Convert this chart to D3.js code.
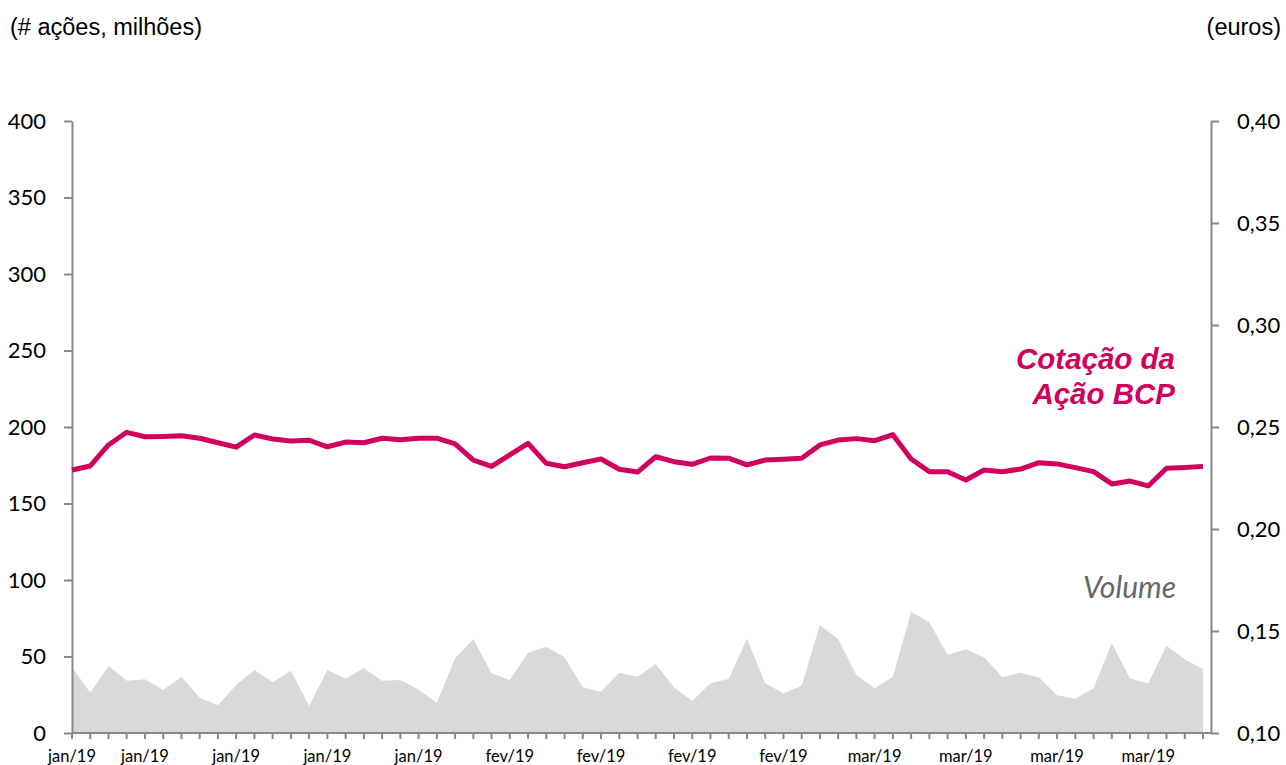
<!DOCTYPE html>
<html>
<head>
<meta charset="utf-8">
<script src="https://cdn.jsdelivr.net/npm/d3@7"></script>
<style>
  body { margin: 0; background: #fff; }
  svg { display: block; }
</style>
</head>
<body>
<svg id="chart" width="1286" height="765"></svg>
<script>
// ---- Data (trading days, Jan–Mar 2019) ----
const months = [].concat(
  Array(22).fill("jan/19"),
  Array(20).fill("fev/19"),
  Array(21).fill("mar/19")
);
const labelIdx = [0, 4, 9, 14, 19, 24, 29, 34, 39, 44, 49, 54, 59];

const volume = [
  42.9, 26.3, 44.0, 34.2, 35.1, 28.1, 36.8, 23.1, 18.1, 31.4,
  41.2, 33.1, 40.7, 17.6, 41.2, 35.7, 42.3, 34.2, 34.6, 28.5,
  19.8, 48.8, 61.2, 39.0, 34.6, 52.5, 56.4, 49.5, 29.9, 27.0,
  39.4, 36.8, 45.1, 29.9, 20.9, 32.5, 35.3, 61.6, 32.5, 25.9,
  30.9, 70.6, 61.4, 37.9, 29.2, 36.8, 79.3, 72.4, 51.0, 54.7,
  49.5, 36.4, 39.4, 36.4, 24.6, 22.4, 29.2, 58.6, 35.7, 32.5,
  57.1, 48.2, 41.6
];

const price = [
  0.2289, 0.2309, 0.2412, 0.2474, 0.2452, 0.2454, 0.2457, 0.2445, 0.2423, 0.2401,
  0.2461, 0.2441, 0.2431, 0.2435, 0.2403, 0.2426, 0.2423, 0.2445, 0.2438, 0.2445,
  0.2445, 0.2417, 0.2338, 0.2307, 0.2363, 0.2420, 0.2322, 0.2305, 0.2325, 0.2343,
  0.2293, 0.2279, 0.2354, 0.2330, 0.2317, 0.2348, 0.2347, 0.2314, 0.2338, 0.2342,
  0.2347, 0.2412, 0.2436, 0.2443, 0.2433, 0.2462, 0.2343, 0.2281, 0.2281, 0.2240,
  0.2289, 0.2281, 0.2294, 0.2325, 0.2319, 0.2301, 0.2281, 0.2221, 0.2235, 0.2211,
  0.2298, 0.2301, 0.2307
];

const leftTicks = [0, 50, 100, 150, 200, 250, 300, 350, 400];
const rightTicks = [0.10, 0.15, 0.20, 0.25, 0.30, 0.35, 0.40];

// ---- Layout ----
const svg = d3.select("#chart");
const plotL = 72, plotR = 1211, plotT = 121, plotB = 733;
const lastX = 1203;
const axisColor = "#898989";
const tickFont = "Lato, 'Open Sans', sans-serif";

const x = d3.scaleLinear().domain([0, volume.length - 1]).range([plotL, lastX]);
const yL = d3.scaleLinear().domain([0, 400]).range([plotB, plotT]);
const yR = d3.scaleLinear().domain([0.10, 0.40]).range([plotB, plotT]);

// Volume area
svg.append("path")
  .datum(volume)
  .attr("fill", "#d9d9d9")
  .attr("d", d3.area()
    .x((d, i) => x(i))
    .y0(yL(0))
    .y1(d => yL(d)));

// Left axis
const gL = svg.append("g")
  .attr("transform", `translate(${plotL},0)`)
  .call(d3.axisLeft(yL).tickValues(leftTicks).tickSize(8).tickSizeOuter(0).tickPadding(18)
    .tickFormat(d3.format("d")));
// Right axis
const fmtR = d => d.toFixed(2).replace(".", ",");
const gR = svg.append("g")
  .attr("transform", `translate(${plotR},0)`)
  .call(d3.axisRight(yR).tickValues(rightTicks).tickSize(8).tickSizeOuter(0).tickPadding(18)
    .tickFormat(fmtR));

[gL, gR].forEach(g => {
  g.select(".domain").attr("stroke", axisColor).attr("stroke-width", 2);
  g.selectAll(".tick line").attr("stroke", axisColor).attr("stroke-width", 2);
  g.selectAll(".tick text")
    .attr("fill", "#000")
    .style("font-family", tickFont)
    .style("font-size", "22px");
});

// X axis
const gX = svg.append("g");
gX.append("line")
  .attr("x1", plotL).attr("x2", plotR)
  .attr("y1", plotB).attr("y2", plotB)
  .attr("stroke", axisColor).attr("stroke-width", 2);
gX.selectAll("line.xt")
  .data(d3.range(volume.length))
  .join("line")
  .attr("class", "xt")
  .attr("x1", i => x(i)).attr("x2", i => x(i))
  .attr("y1", plotB).attr("y2", plotB + 6)
  .attr("stroke", axisColor).attr("stroke-width", 2);
gX.selectAll("text.xl")
  .data(labelIdx)
  .join("text")
  .attr("class", "xl")
  .attr("x", i => x(i))
  .attr("y", 762)
  .attr("text-anchor", "middle")
  .style("font-family", tickFont)
  .style("font-size", "16.5px")
  .attr("fill", "#000")
  .text(i => months[i]);

// Price line
svg.append("path")
  .datum(price)
  .attr("fill", "none")
  .attr("stroke", "#d1005c")
  .attr("stroke-width", 5)
  .attr("stroke-linejoin", "round")
  .attr("d", d3.line()
    .x((d, i) => x(i))
    .y(d => yR(d)));

// Unit labels
svg.append("text")
  .attr("x", 10).attr("y", 35)
  .style("font-family", "'Liberation Sans', Arial, sans-serif")
  .style("font-size", "23.5px")
  .attr("fill", "#000")
  .text("(# ações, milhões)");
svg.append("text")
  .attr("x", 1281).attr("y", 35)
  .attr("text-anchor", "end")
  .style("font-family", "'Liberation Sans', Arial, sans-serif")
  .style("font-size", "23.5px")
  .attr("fill", "#000")
  .text("(euros)");

// Series annotations
const ann = svg.append("g")
  .style("font-family", "'Liberation Sans', Arial, sans-serif")
  .style("font-size", "29.5px")
  .style("font-weight", "bold")
  .style("font-style", "italic")
  .attr("fill", "#d1005c")
  .attr("text-anchor", "end");
ann.append("text").attr("x", 1175).attr("y", 369).text("Cotação da");
ann.append("text").attr("x", 1175).attr("y", 404).text("Ação BCP");

svg.append("text")
  .attr("x", 1176).attr("y", 598)
  .attr("text-anchor", "end")
  .style("font-family", tickFont)
  .style("font-size", "30px")
  .style("font-style", "italic")
  .attr("fill", "#666")
  .text("Volume");
</script>
</body>
</html>
